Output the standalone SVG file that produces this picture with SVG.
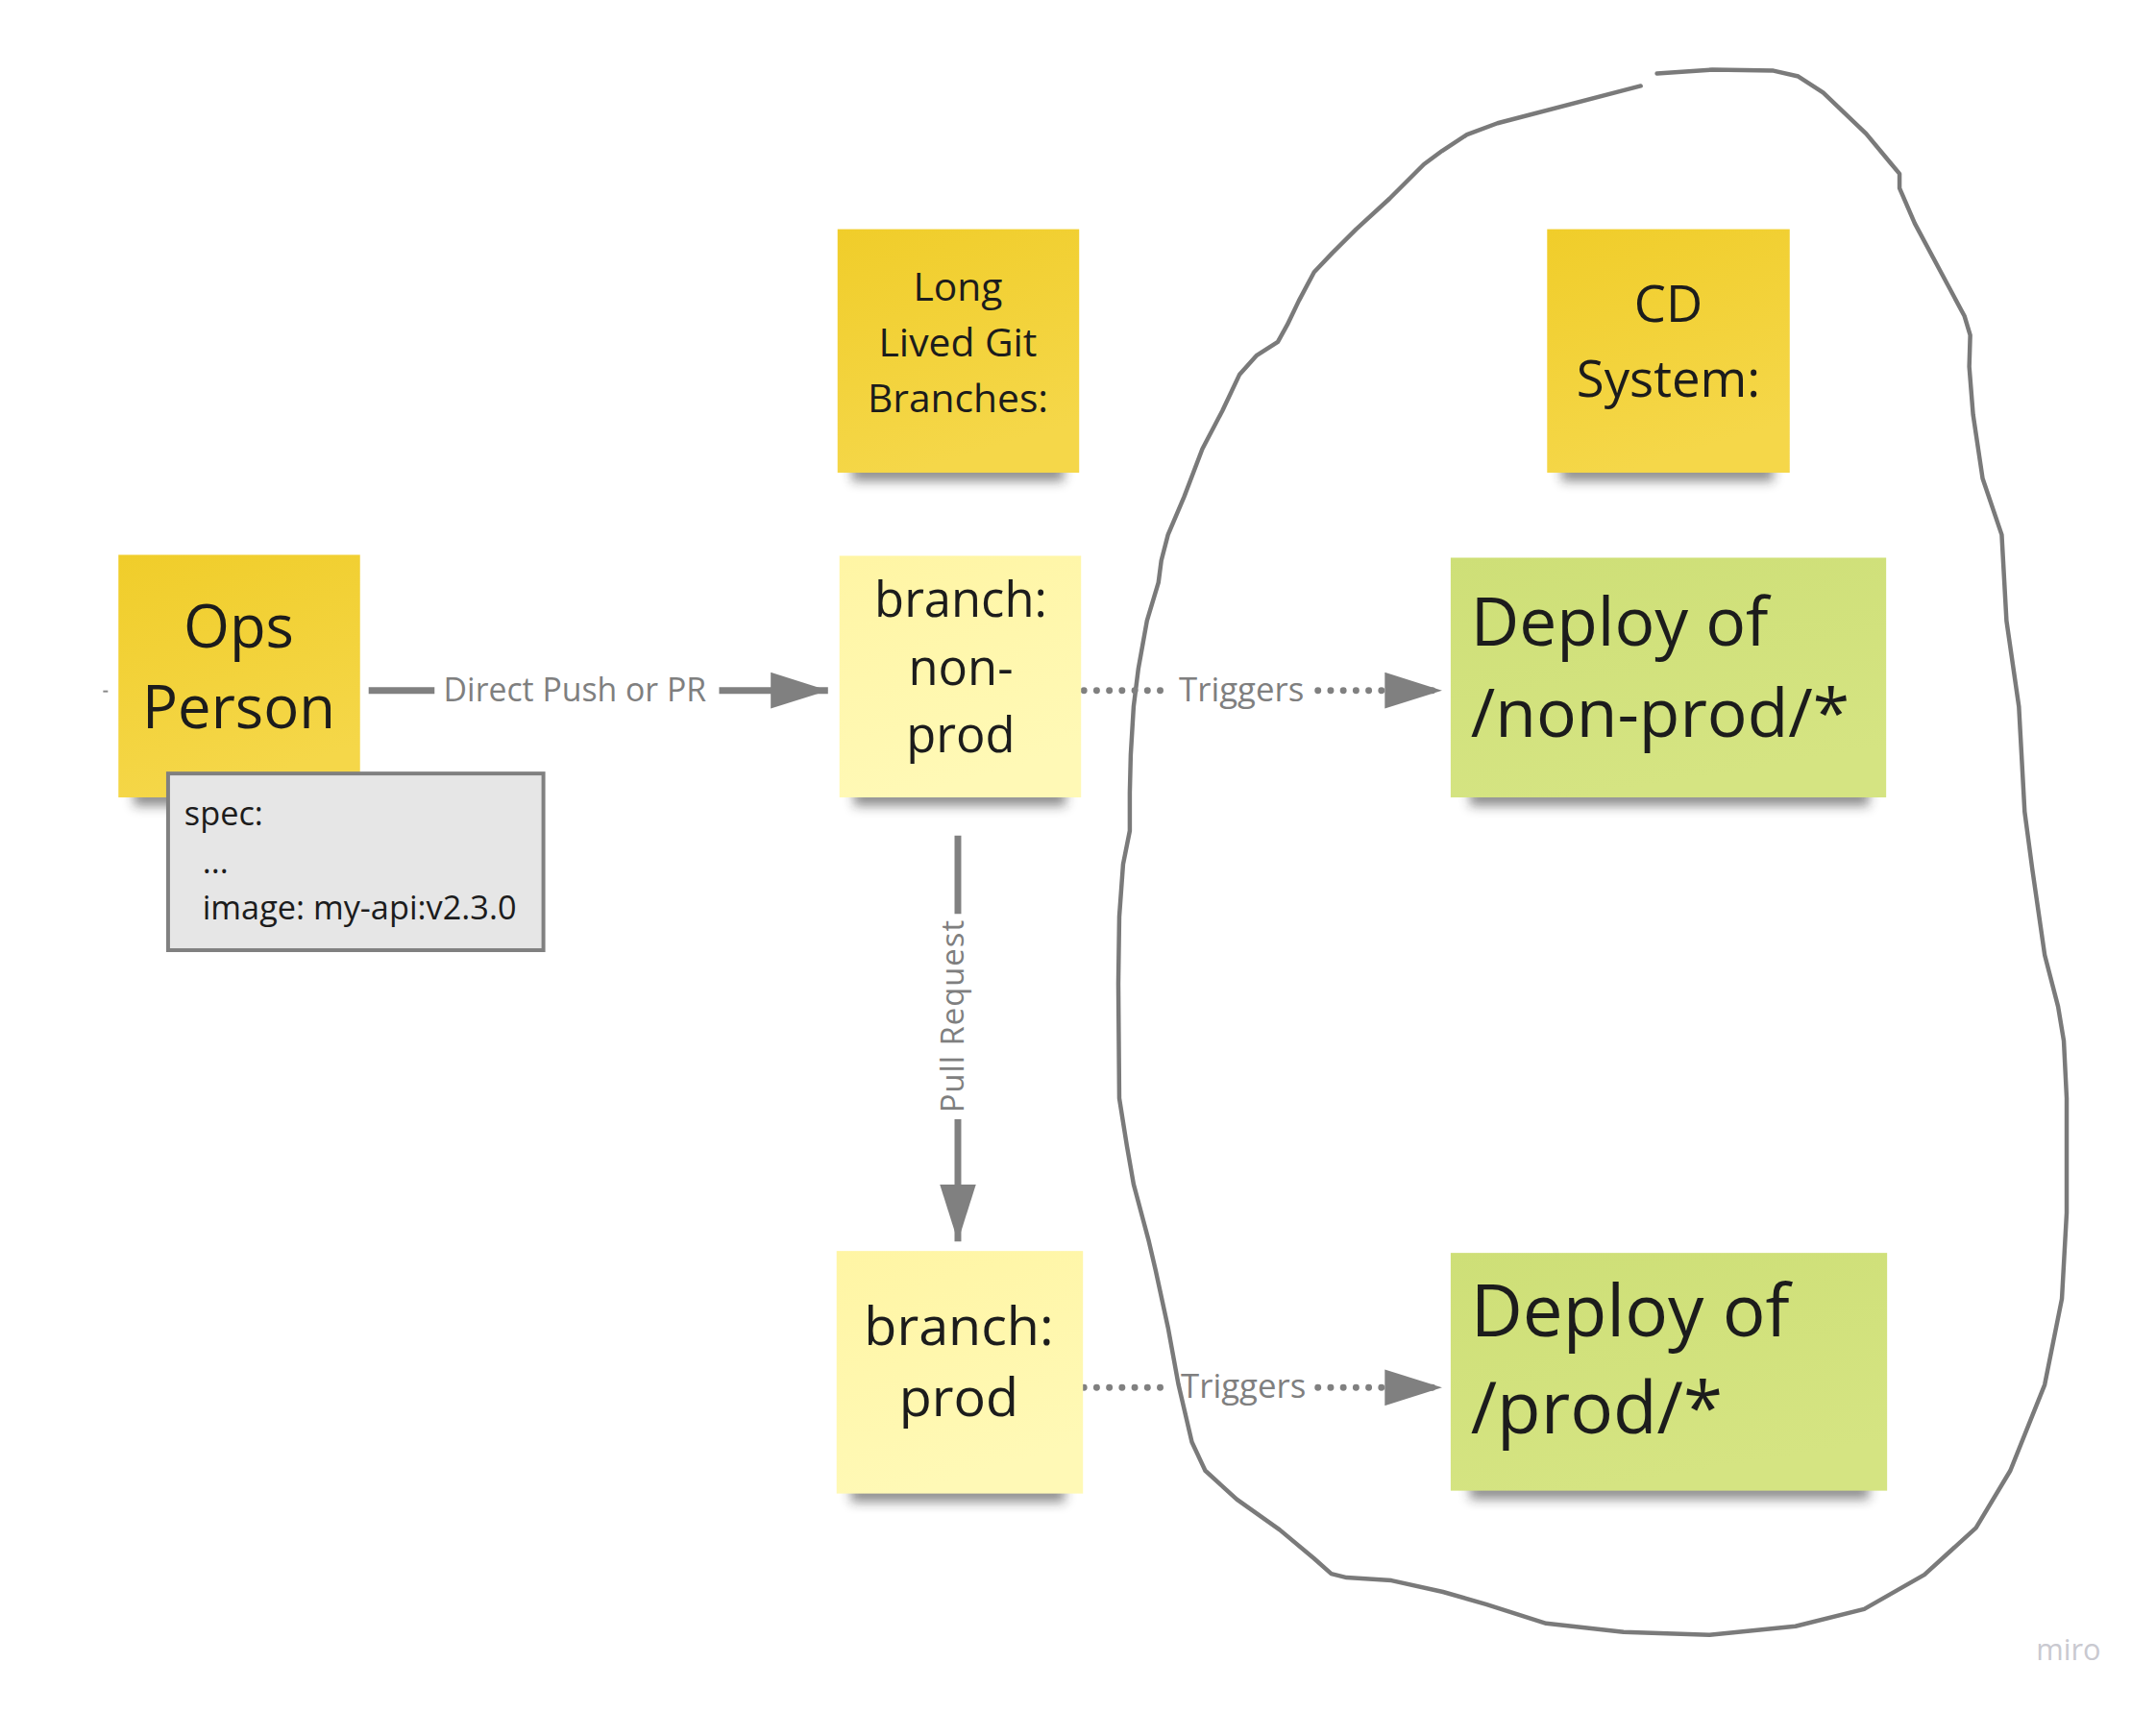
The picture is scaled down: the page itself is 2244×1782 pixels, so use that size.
<svg xmlns="http://www.w3.org/2000/svg" width="2244" height="1782" viewBox="0 0 2244 1782">
<defs>
<linearGradient id="gY" x1="0" y1="0" x2="0.3" y2="1"><stop offset="0" stop-color="#F0CD2A"/><stop offset="1" stop-color="#F5D749"/></linearGradient>
<linearGradient id="gL" x1="0" y1="0" x2="0.3" y2="1"><stop offset="0" stop-color="#FFF5A4"/><stop offset="1" stop-color="#FFF9B6"/></linearGradient>
<linearGradient id="gG" x1="0" y1="0" x2="0.3" y2="1"><stop offset="0" stop-color="#CEDF77"/><stop offset="1" stop-color="#D5E482"/></linearGradient>
<filter id="blur" x="-20%" y="-100%" width="140%" height="300%"><feGaussianBlur stdDeviation="6"/></filter>
<marker id="ah" markerUnits="userSpaceOnUse" markerWidth="60" markerHeight="38" refX="60" refY="19" orient="auto"><path d="M0,0 L60,19 L0,38 z" fill="#808080"/></marker>
</defs>
<style>
.t{font-family:"Open Sans","Liberation Sans",sans-serif;fill:#1c1c1c;text-anchor:middle}
.tl{font-family:"Open Sans","Liberation Sans",sans-serif;fill:#1c1c1c}
.lab{font-family:"Open Sans","Liberation Sans",sans-serif;fill:#7f7f7f;text-anchor:middle;font-size:34px}
.sh{fill:#202020;opacity:0.5;filter:url(#blur)}
.ln{stroke:#808080;stroke-width:7;fill:none}
.dot{stroke:#808080;stroke-width:7;fill:none;stroke-linecap:round;stroke-dasharray:0 13.3}
</style>
<rect width="2244" height="1782" fill="#ffffff"/>
<g transform="scale(0.994)">
<path id="blob" d="M1718,90 L1568,129 L1536,141 L1510,158 L1491,172 L1455,208 L1420,240 L1395,265 L1376,285 L1360,315 L1348,340 L1338,358 L1316,372 L1298,392 L1280,430 L1259,470 L1240,520 L1223,560 L1216,587 L1213,610 L1201,650 L1192,700 L1187,740 L1184,790 L1183,830 L1183,870 L1176,905 L1172,960 L1171,1030 L1172,1150 L1180,1200 L1187,1240 L1203,1300 L1210,1330 L1223,1390 L1234,1450 L1248,1510 L1262,1540 L1295,1570 L1340,1602 L1376,1632 L1394,1648 L1410,1652 L1457,1655 L1511,1667 L1556,1680 L1619,1700 L1700,1709 L1790,1712 L1880,1703 L1952,1685 L2015,1649 L2069,1600 L2105,1540 L2141,1450 L2159,1360 L2164,1270 L2164,1150 L2161,1090 L2155,1054 L2141,1000 L2128,910 L2120,850 L2114,740 L2101,650 L2096,560 L2076,501 L2066,434 L2062,384 L2063,351 L2057,331 L2005,234 L1989,197 L1989,182 L1979,170 L1954,140 L1909,97 L1883,80 L1857,74 L1793,73 L1735,77" fill="none" stroke="#7a7a7a" stroke-width="4.5" stroke-linejoin="round" stroke-linecap="round"/>

<g id="connectors">
<line x1="108" y1="724" x2="113" y2="724" stroke="#888" stroke-width="2"/>
<g id="c-push">
<path class="ln" d="M386,723 H455"/>
<path class="ln" d="M753,723 H867" marker-end="url(#ah)"/>
<text class="lab" x="602" y="734">Direct Push or PR</text>
</g>
<g id="c-trig1">
<path class="dot" d="M1135,723 H1227"/>
<path class="dot" d="M1380,723 H1510" marker-end="url(#ah)"/>
<text class="lab" x="1300" y="734" style="font-size:35px">Triggers</text>
</g>
<g id="c-pr">
<path class="ln" d="M1003,875 V957"/>
<path class="ln" d="M1003,1172 V1300" marker-end="url(#ah)"/>
<text class="lab" x="1009" y="1064" transform="rotate(-90 1009 1064)" style="font-size:33px;letter-spacing:1px">Pull Request</text>
</g>
<g id="c-trig2">
<path class="dot" d="M1135,1453 H1227"/>
<path class="dot" d="M1380,1453 H1510" marker-end="url(#ah)"/>
<text class="lab" x="1302" y="1464" style="font-size:35px">Triggers</text>
</g>
</g>

<g id="ops-person">
<rect class="sh" x="140" y="816" width="222" height="28"/>
<rect x="124" y="581" width="253" height="254" fill="url(#gY)"/>
<text class="t" font-size="62" x="250" y="678">Ops</text>
<text class="t" font-size="62" x="250" y="763">Person</text>
</g>

<g id="spec-box">
<rect x="176" y="810" width="393" height="185" fill="#E6E6E6" stroke="#808080" stroke-width="4"/>
<text class="tl" font-size="34.5" x="193" y="864">spec:</text>
<text class="tl" font-size="34.5" x="212" y="914">...</text>
<text class="tl" font-size="34.5" x="212" y="963">image: my-api:v2.3.0</text>
</g>

<g id="long-lived">
<rect class="sh" x="892" y="476" width="222" height="28"/>
<rect x="877" y="240" width="253" height="255" fill="url(#gY)"/>
<text class="t" font-size="41" x="1003" y="315">Long</text>
<text class="t" font-size="41" x="1003" y="373">Lived Git</text>
<text class="t" font-size="41" x="1003" y="432">Branches:</text>
</g>

<g id="cd-system">
<rect class="sh" x="1635" y="476" width="222" height="28"/>
<rect x="1620" y="240" width="254" height="255" fill="url(#gY)"/>
<text class="t" font-size="53" x="1747" y="337">CD</text>
<text class="t" font-size="53" x="1747" y="416">System:</text>
</g>

<g id="branch-nonprod">
<rect class="sh" x="894" y="816" width="222" height="28"/>
<rect x="879" y="582" width="253" height="253" fill="url(#gL)"/>
<text class="t" font-size="51" x="1006" y="646">branch:</text>
<text class="t" font-size="51" x="1006" y="717">non-</text>
<text class="t" font-size="51" x="1006" y="788">prod</text>
</g>

<g id="deploy-nonprod">
<rect class="sh" x="1539" y="816" width="418" height="28"/>
<rect x="1519" y="584" width="456" height="251" fill="url(#gG)"/>
<text class="tl" font-size="70" x="1540" y="676">Deploy of</text>
<text class="tl" font-size="70" x="1540" y="772">/non-prod/*</text>
</g>

<g id="branch-prod">
<rect class="sh" x="891" y="1545" width="224" height="28"/>
<rect x="876" y="1310" width="258" height="254" fill="url(#gL)"/>
<text class="t" font-size="56" x="1004" y="1408">branch:</text>
<text class="t" font-size="56" x="1004" y="1483">prod</text>
</g>

<g id="deploy-prod">
<rect class="sh" x="1539" y="1542" width="418" height="28"/>
<rect x="1519" y="1312" width="457" height="249" fill="url(#gG)"/>
<text class="tl" font-size="75" x="1540" y="1399">Deploy of</text>
<text class="tl" font-size="75" x="1540" y="1501">/prod/*</text>
</g>

<text x="2132" y="1738" font-family="'Open Sans','Liberation Sans',sans-serif" font-size="31" fill="#C9C9D0">miro</text>
</g>
</svg>
